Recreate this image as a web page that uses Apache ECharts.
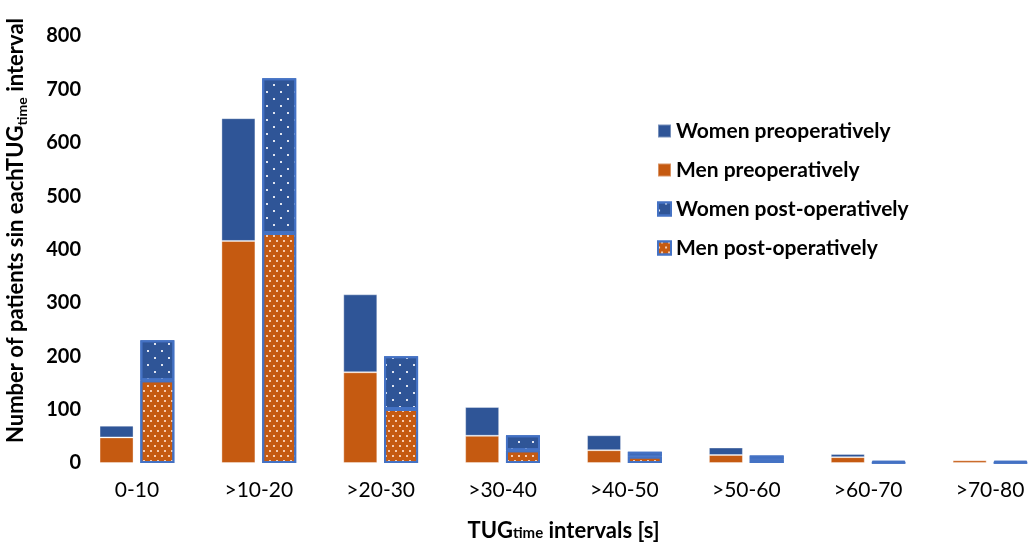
<!DOCTYPE html>
<html>
<head>
<meta charset="utf-8">
<script src="https://cdn.jsdelivr.net/npm/echarts@6/dist/echarts.min.js"></script>
<style>
  html, body { margin: 0; padding: 0; background: #fff; }
  #chart { width: 1030px; height: 543px; }
</style>
</head>
<body>
<div id="chart"></div>
<script>
const categories = ["0-10", ">10-20", ">20-30", ">30-40", ">40-50", ">50-60", ">60-70", ">70-80"];
const menPre = [48, 416, 170, 51, 24, 15, 11, 5];
const womenPre = [22, 230, 146, 54, 28, 14, 6, 2];
const menPost = [155, 431, 101, 24, 12, 6, 1, 1];
const womenPost = [75, 290, 99, 28, 9, 8, 3, 3];
const yTicks = [0, 100, 200, 300, 400, 500, 600, 700, 800];

const FONT = "Lato";
const BLUE = "#2F5597";
const ORANGE = "#C55A11";
const EDGE = "#4472C4";

let chart = echarts.init(document.getElementById("chart"));

let womenDots = {
  symbol: "rect",
  symbolSize: 1,
  color: "rgba(255,255,255,0.85)",
  dashArrayX: [[2, 12], [0, 7, 2, 5]],
  dashArrayY: [2, 5]
};
let menDots = {
  symbol: "rect",
  symbolSize: 1,
  color: "rgba(255,225,205,0.85)",
  dashArrayX: [[2, 5], [0, 3, 2, 2]],
  dashArrayY: [2, 3]
};

let option = {
  animation: false,
  textStyle: { fontFamily: FONT },
  grid: { left: 76, right: -21, top: 36, bottom: 80, outerBoundsMode: "none", containLabel: false },
  legend: {
    orient: "vertical",
    icon: "rect",
    left: 652,
    top: 115,
    itemWidth: 13,
    itemHeight: 13,
    itemGap: 17,
    data: ["Women preoperatively", "Men preoperatively", "Women post-operatively", "Men post-operatively"],
    textStyle: { fontFamily: FONT, fontSize: 21, fontWeight: "bold", color: "#000", lineHeight: 22 }
  },
  xAxis: {
    type: "category",
    data: categories,
    axisLine: { show: false },
    axisTick: { show: false },
    axisLabel: { fontFamily: FONT, fontSize: 21, color: "#000", margin: 17 },
    name: "{m|TUG}{s|time}{m| intervals [s]}",
    nameLocation: "middle",
    nameGap: 57,
    nameTextStyle: {
      rich: {
        m: { fontFamily: FONT, fontSize: 22, fontWeight: "bold", color: "#000" },
        s: { fontFamily: FONT, fontSize: 15, fontWeight: "bold", color: "#000", padding: [4, 0, 0, 0] }
      }
    }
  },
  yAxis: {
    type: "value",
    min: yTicks[0],
    max: yTicks[yTicks.length - 1],
    interval: 100,
    axisLine: { show: false },
    axisTick: { show: false },
    splitLine: { show: false },
    axisLabel: { fontFamily: FONT, fontSize: 20, fontWeight: "bold", color: "#000", margin: -5 },
    name: "{m|Number of patients sin eachTUG}{s|time}{m| interval}",
    nameLocation: "middle",
    nameRotate: 90,
    nameGap: 47,
    nameTextStyle: {
      padding: [0, 0, 0, 38],
      rich: {
        m: { fontFamily: FONT, fontSize: 22, fontWeight: "bold", color: "#000", lineHeight: 24, verticalAlign: "top" },
        s: { fontFamily: FONT, fontSize: 14, fontWeight: "bold", color: "#000", lineHeight: 24, verticalAlign: "bottom", padding: [11, 0, 0, 0] }
      }
    }
  },
  series: [
    {
      name: "Men preoperatively", type: "bar", stack: "pre", data: menPre,
      barWidth: 34, barGap: "20%",
      itemStyle: { color: ORANGE, borderColor: "rgba(255,255,255,0.35)", borderWidth: 1 }
    },
    {
      name: "Women preoperatively", type: "bar", stack: "pre", data: womenPre,
      barWidth: 34, barGap: "20%",
      itemStyle: { color: BLUE, borderColor: "rgba(255,255,255,0.35)", borderWidth: 1 }
    },
    {
      name: "Men post-operatively", type: "bar", stack: "post", data: menPost,
      barWidth: 34, barGap: "20%",
      itemStyle: { color: ORANGE, borderColor: EDGE, borderWidth: 2, decal: menDots }
    },
    {
      name: "Women post-operatively", type: "bar", stack: "post", data: womenPost,
      barWidth: 34, barGap: "20%",
      itemStyle: { color: BLUE, borderColor: EDGE, borderWidth: 2, decal: womenDots }
    }
  ]
};
chart.setOption(option);
</script>
</body>
</html>
